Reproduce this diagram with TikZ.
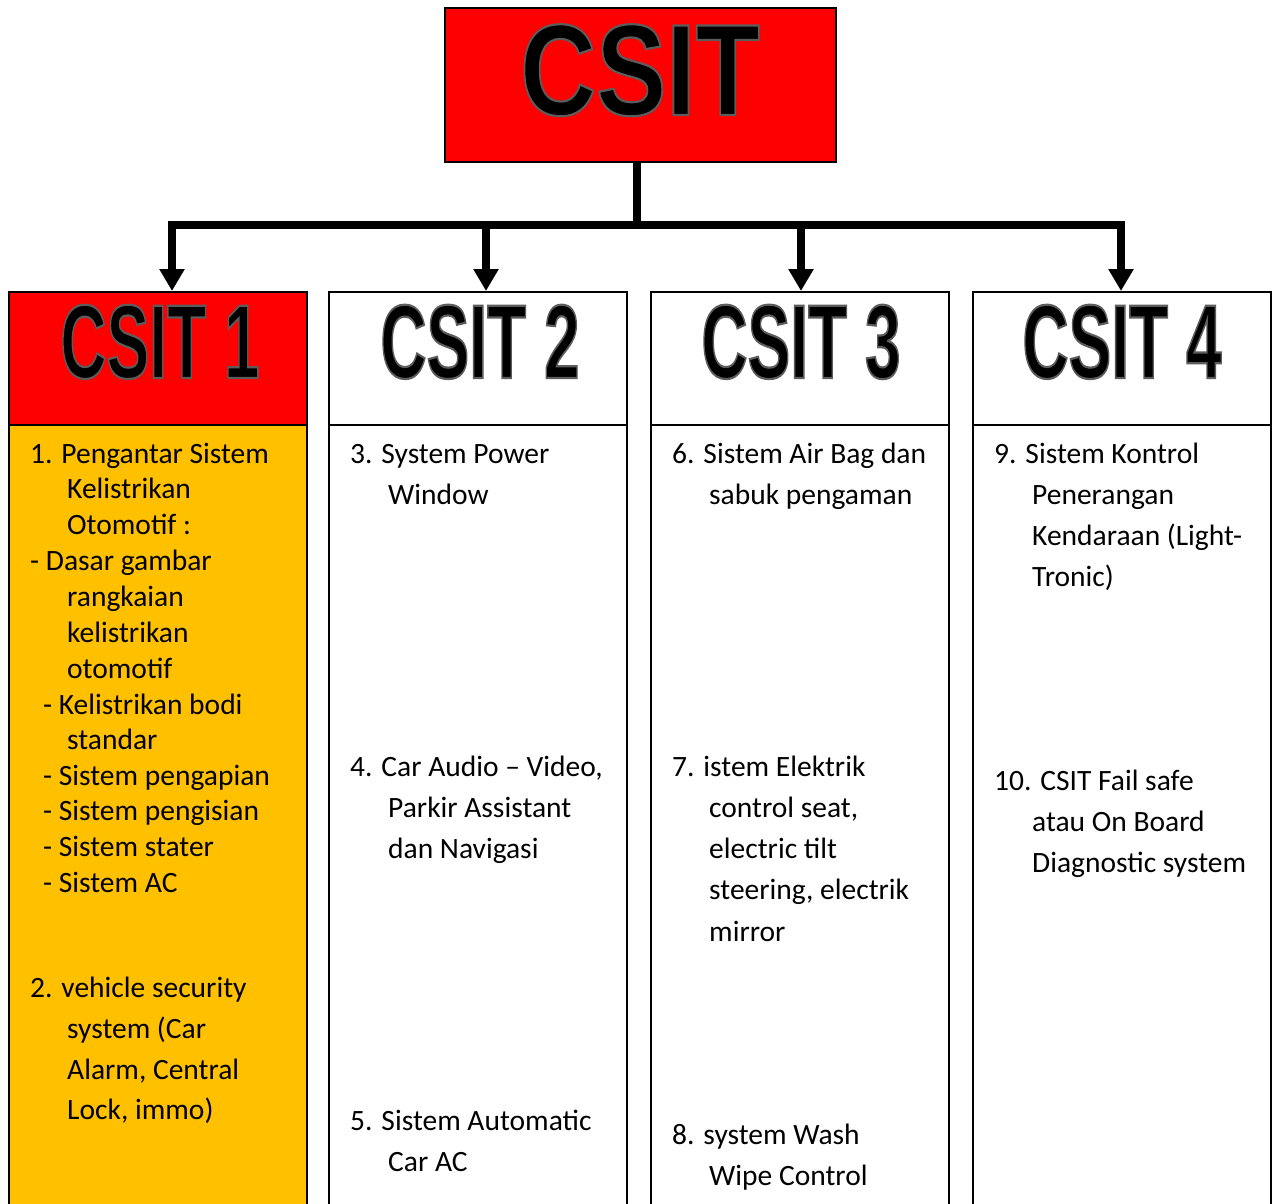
\documentclass[tikz,border=0pt]{standalone}
\usepackage{fontspec}
\setmainfont{Carlito}
\newfontfamily\headfont{Liberation Sans}
\usetikzlibrary{arrows.meta}
\definecolor{cRed}{HTML}{FF0000}
\definecolor{cOrange}{HTML}{FFC000}
\tikzset{
  hdrbox/.style={draw=black, line width=2pt, minimum width=298pt, minimum height=133pt, inner sep=0pt},
  bodybox/.style={draw=black, line width=2pt, minimum width=298pt, minimum height=790pt, inner sep=0pt},
  conn/.style={line width=8pt, line cap=butt},
  arr/.style={line width=8pt, -{Triangle[width=24pt,length=22pt]}},
  hdrtext/.style={anchor=base, inner sep=0pt, font=\headfont\bfseries\fontsize{105}{105}\selectfont},
  ln/.style={anchor=base west, inner sep=0pt, font=\fontsize{29.5}{30}\selectfont},
}
\newcommand{\outl}[1]{\special{pdf:literal 2 Tr 2.2 w 0.36 0.36 0.36 RG}#1\special{pdf:literal 0 Tr 0 G}}
\newcommand{\hdrlabel}[1]{\scalebox{0.61}[1]{\outl{#1}}}
\begin{document}
\begin{tikzpicture}[x=1pt,y=-1pt]
\useasboundingbox (0,0) rectangle (1274,1203);
\clip (0,0) rectangle (1274,1203);
\fill[white] (0,0) rectangle (1274,1203);

% top box
\node[draw=black, line width=2pt, fill=cRed, minimum width=391pt, minimum height=154pt, inner sep=0pt] (top) at (640.5,85) {};
\node[anchor=base, inner sep=0pt, font=\headfont\bfseries\fontsize{130}{130}\selectfont] (toptxt) at (640,115) {\scalebox{0.81}[1]{\outl{CSIT}}};

% column bodies
\node[bodybox, fill=cOrange, anchor=north] (b1) at (158,424) {};
\node[bodybox, fill=white, anchor=north] (b2) at (478,424) {};
\node[bodybox, fill=white, anchor=north] (b3) at (800,424) {};
\node[bodybox, fill=white, anchor=north] (b4) at (1122,424) {};

% headers
\node[hdrbox, fill=cRed, anchor=north] (h1) at (158,291) {};
\node[hdrbox, fill=white, anchor=north] (h2) at (478,291) {};
\node[hdrbox, fill=white, anchor=north] (h3) at (800,291) {};
\node[hdrbox, fill=white, anchor=north] (h4) at (1122,291) {};

\node[hdrtext] (t1) at (160,378) {\hdrlabel{CSIT 1}};
\node[hdrtext] (t2) at (480,378) {\hdrlabel{CSIT 2}};
\node[hdrtext] (t3) at (801,378) {\hdrlabel{CSIT 3}};
\node[hdrtext] (t4) at (1122,378) {\hdrlabel{CSIT 4}};

% connectors
\coordinate (jn) at (637,225);
\coordinate (a1) at (172,225);
\coordinate (a2) at (486,225);
\coordinate (a3) at (801,225);
\coordinate (a4) at (1121,225);
\draw[conn] (top.south -| jn) -- (jn);
\draw[conn] ([xshift=-4pt]a1) -- ([xshift=4pt]a4);
\draw[arr] ([yshift=-4pt]a1) -- (a1 |- h1.north);
\draw[arr] ([yshift=-4pt]a2) -- (a2 |- h2.north);
\draw[arr] ([yshift=-4pt]a3) -- (a3 |- h3.north);
\draw[arr] ([yshift=-4pt]a4) -- (a4 |- h4.north);

% column 1 text
\node[ln] (c1l1) at (30,463) {1. Pengantar Sistem};
\node[ln] (c1l2) at (67,498) {Kelistrikan};
\node[ln] (c1l3) at (67,534) {Otomotif :};
\node[ln] (c1l4) at (30,570) {- Dasar gambar};
\node[ln] (c1l5) at (67,606) {rangkaian};
\node[ln] (c1l6) at (67,642) {kelistrikan};
\node[ln] (c1l7) at (67,678) {otomotif};
\node[ln] (c1l8) at (43,714) {- Kelistrikan bodi};
\node[ln] (c1l9) at (67,749) {standar};
\node[ln] (c1l10) at (43,785) {- Sistem pengapian};
\node[ln] (c1l11) at (43,820) {- Sistem pengisian};
\node[ln] (c1l12) at (43,856) {- Sistem stater};
\node[ln] (c1l13) at (43,892) {- Sistem AC};
\node[ln] (c1m1) at (30,997) {2. vehicle security};
\node[ln] (c1m2) at (67,1038) {system (Car};
\node[ln] (c1m3) at (67,1079) {Alarm, Central};
\node[ln] (c1m4) at (67,1119) {Lock, immo)};

% column 2 text
\node[ln] (c2a1) at (350,463) {3. System Power};
\node[ln] (c2a2) at (388,504) {Window};
\node[ln] (c2b1) at (350,776) {4. Car Audio -- Video,};
\node[ln] (c2b2) at (388,817) {Parkir Assistant};
\node[ln] (c2b3) at (388,858) {dan Navigasi};
\node[ln] (c2c1) at (350,1130) {5. Sistem Automatic};
\node[ln] (c2c2) at (388,1171) {Car AC};

% column 3 text
\node[ln] (c3a1) at (672,463) {6. Sistem Air Bag dan};
\node[ln] (c3a2) at (709,504) {sabuk pengaman};
\node[ln] (c3b1) at (672,776) {7. istem Elektrik};
\node[ln] (c3b2) at (709,817) {control seat,};
\node[ln] (c3b3) at (709,858) {electric tilt};
\node[ln] (c3b4) at (709,899) {steering, electrik};
\node[ln] (c3b5) at (709,941) {mirror};
\node[ln] (c3c1) at (672,1144) {8. system Wash};
\node[ln] (c3c2) at (709,1185) {Wipe Control};

% column 4 text
\node[ln] (c4a1) at (994,463) {9. Sistem Kontrol};
\node[ln] (c4a2) at (1032,504) {Penerangan};
\node[ln] (c4a3) at (1032,545) {Kendaraan (Light-};
\node[ln] (c4a4) at (1032,586) {Tronic)};
\node[ln] (c4b1) at (994,790) {10. CSIT Fail safe};
\node[ln] (c4b2) at (1032,831) {atau On Board};
\node[ln] (c4b3) at (1032,872) {Diagnostic system};
\end{tikzpicture}
\end{document}
